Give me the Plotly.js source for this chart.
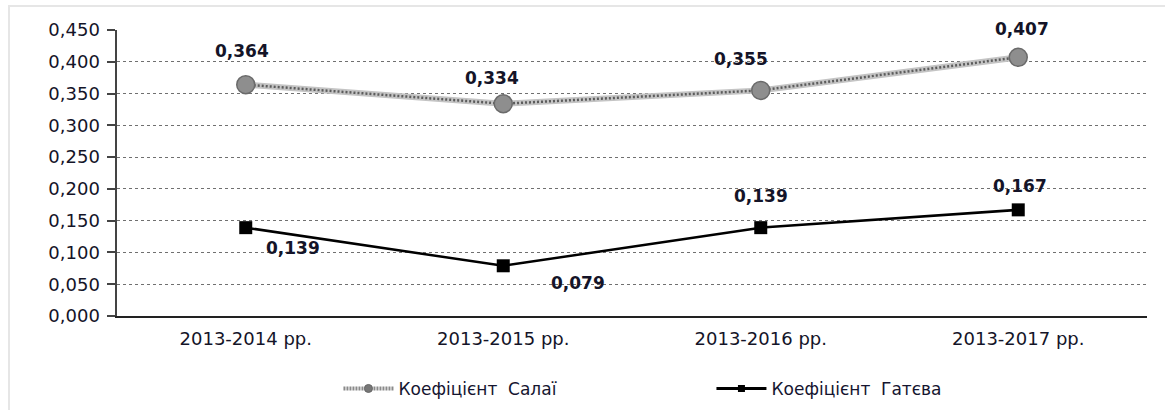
<!DOCTYPE html>
<html><head><meta charset="utf-8">
<script src="https://cdn.plot.ly/plotly-3.0.1.min.js"></script>
<style>
html,body{margin:0;padding:0;background:#fff;}
#frame{position:absolute;left:8px;top:5px;width:1170px;height:420px;border:2px solid #e6e6e6;box-sizing:border-box;}
#chart{position:absolute;left:0;top:0;width:1165px;height:410px;}
</style></head>
<body><div id="frame"></div><div id="chart"></div>
<script>
const categories = ['2013-2014 рр.', '2013-2015 рр.', '2013-2016 рр.', '2013-2017 рр.'];
const salaiValues = [0.364, 0.334, 0.355, 0.407];
const gatevValues = [0.139, 0.079, 0.139, 0.167];
const salaiName = 'Коефіцієнт  Салаї';
const gatevName = 'Коефіцієнт  Гатєва';
const yTicks = [0, 0.05, 0.1, 0.15, 0.2, 0.25, 0.3, 0.35, 0.4, 0.45];

// label offsets (pixels) relative to each point
const salaiLabelShift = [[-4, -34], [-11, -26], [-20, -31], [4, -28]];
const gatevLabelShift = [[47, -20], [75, -17], [0, 32], [2, 24]];

const fmt = v => v.toFixed(3).replace('.', ',');
const FONT = 'DejaVu Sans, Verdana, sans-serif';

const traces = [
  { // base of textured line
    x: categories, y: salaiValues, type: 'scatter', mode: 'lines', showlegend: false, hoverinfo: 'skip',
    line: {color: '#c4c4c4', width: 6}
  },
  { // texture + markers
    x: categories, y: salaiValues, type: 'scatter', mode: 'lines+markers', showlegend: false,
    line: {color: '#5c5c5c', width: 2.5, dash: '2px,2px'},
    marker: {symbol: 'circle', size: 18, color: '#8e8e8e', line: {color: '#6a6a6a', width: 1.5}}
  },
  {
    x: categories, y: gatevValues, type: 'scatter', mode: 'lines+markers', showlegend: false,
    line: {color: '#000', width: 2.5},
    marker: {symbol: 'square', size: 13, color: '#000'}
  },
  // legend entries
  {
    x: [null], y: [null], name: salaiName, type: 'scatter', mode: 'lines+markers',
    line: {color: '#8a8a8a', width: 4, dash: '2px,1px'},
    marker: {symbol: 'circle', size: 8, color: '#777', line: {color: '#666', width: 1}}
  },
  {
    x: [null], y: [null], name: gatevName, type: 'scatter', mode: 'lines+markers',
    line: {color: '#000', width: 3},
    marker: {symbol: 'square', size: 7, color: '#000'}
  }
];

const annotations = [];
salaiValues.forEach((v, i) => annotations.push({
  x: categories[i], y: v, xref: 'x', yref: 'y', text: fmt(v), showarrow: false,
  xshift: salaiLabelShift[i][0], yshift: -salaiLabelShift[i][1],
  font: {family: FONT, size: 17, color: '#141428', weight: 'bold'}
}));
gatevValues.forEach((v, i) => annotations.push({
  x: categories[i], y: v, xref: 'x', yref: 'y', text: fmt(v), showarrow: false,
  xshift: gatevLabelShift[i][0], yshift: gatevLabelShift[i][1],
  font: {family: FONT, size: 17, color: '#141428', weight: 'bold'}
}));

const layout = {
  width: 1165, height: 410,
  margin: {l: 117, r: 18, t: 30, b: 94, autoexpand: false},
  paper_bgcolor: 'rgba(0,0,0,0)', plot_bgcolor: 'rgba(0,0,0,0)',
  separators: ', ',
  font: {family: FONT, size: 13, color: '#1a1a2e'},
  showlegend: true,
  annotations: annotations,
  legend: {orientation: 'h', x: 0.215, xanchor: 'left', y: -0.255, yanchor: 'middle',
           font: {family: FONT, size: 17, color: '#151530'}, itemwidth: 50, entrywidth: 308,
           traceorder: 'normal', bgcolor: 'rgba(0,0,0,0)'},
  xaxis: {
    type: 'category', range: [-0.5, 3.5], showgrid: false, zeroline: false, automargin: false,
    showline: true, linecolor: '#222', linewidth: 2,
    ticks: '', ticklabelstandoff: 5, tickfont: {family: FONT, size: 18, color: '#141428'}, fixedrange: true
  },
  yaxis: {
    range: [0, 0.45], tickvals: yTicks, tickformat: '.3f', automargin: false,
    showgrid: true, gridcolor: '#707070', griddash: 'dot', gridwidth: 1,
    zeroline: false, showline: true, linecolor: '#444', linewidth: 2.5,
    ticks: 'outside', ticklen: 8, tickwidth: 2, tickcolor: '#444', ticklabelstandoff: 3,
    tickfont: {family: FONT, size: 18, color: '#141428'}, fixedrange: true
  }
};

Plotly.newPlot('chart', traces, layout, {displayModeBar: false, staticPlot: true});
</script></body></html>
